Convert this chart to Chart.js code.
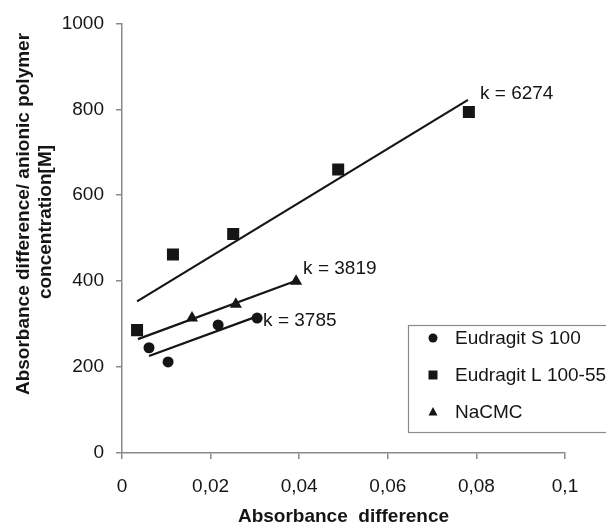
<!DOCTYPE html>
<html>
<head>
<meta charset="utf-8">
<script src="https://cdn.jsdelivr.net/npm/chart.js@4/dist/chart.umd.min.js"></script>
<style>
  html, body { margin: 0; padding: 0; background: #fff; }
  #wrap { width: 606px; height: 527px; position: relative; }
</style>
</head>
<body>
<div id="wrap"><canvas id="kChart"></canvas></div>
<script>
// 読み取ったデータ
const seriesNames = ['Eudragit S 100', 'Eudragit L 100-55', 'NaCMC'];
const seriesStyles = ['circle', 'rect', 'triangle'];

const s100X = [0.0061, 0.0104, 0.0217, 0.0305];
const s100Y = [245, 212, 298, 314];
const l10055X = [0.0034, 0.0115, 0.0251, 0.0488, 0.0783];
const l10055Y = [286, 462, 510, 660, 794];
const nacmcX = [0.0158, 0.0257, 0.0393];
const nacmcY = [314, 346, 400];

// 回帰直線の端点
const s100TrendX = [0.0061, 0.0305];
const s100TrendY = [226, 318];
const l10055TrendX = [0.0034, 0.0781];
const l10055TrendY = [353, 822];
const nacmcTrendX = [0.0036, 0.0393];
const nacmcTrendY = [265, 401];

const slopeLabels = ['k = 3785', 'k = 6274', 'k = 3819'];

const xTickLabels = ['0', '0,02', '0,04', '0,06', '0,08', '0,1'];
const yTickLabels = ['0', '200', '400', '600', '800', '1000'];

const xTitle = 'Absorbance  difference';
const yTitle = ['Absorbance difference/ anionic polymer', 'concentration[M]'];

const FONT = '"Liberation Sans", Arial, sans-serif';
const AXIS_GRAY = '#8a8a8a';
const INK = '#151515';

function toPoints(xs, ys) {
    return xs.map((x, i) => ({ x: x, y: ys[i] }));
}

function drawMarker(ctx, style, x, y, r) {
    ctx.beginPath();
    if (style === 'circle') {
        ctx.arc(x, y, r, 0, Math.PI * 2);
    } else if (style === 'rect') {
        ctx.rect(x - r, y - r, r * 2, r * 2);
    } else {
        ctx.moveTo(x, y - r * 1.1);
        ctx.lineTo(x + r, y + r * 0.8);
        ctx.lineTo(x - r, y + r * 0.8);
        ctx.closePath();
    }
    ctx.fill();
}

// タイトル・注釈・凡例を描くプラグイン
const decorPlugin = {
    id: 'decor',
    afterDraw(chart) {
        const ctx = chart.ctx;
        const xs = chart.scales.x;
        const ys = chart.scales.y;
        ctx.save();
        ctx.fillStyle = INK;

        // 傾きのラベル
        ctx.font = '19px ' + FONT;
        ctx.textBaseline = 'middle';
        ctx.textAlign = 'left';
        const ends = [
            [s100TrendX[1], s100TrendY[1], 6, 4],
            [l10055TrendX[1], l10055TrendY[1], 12, -6],
            [nacmcTrendX[1], nacmcTrendY[1], 7, -12]
        ];
        ends.forEach((e, i) => {
            ctx.fillText(slopeLabels[i], xs.getPixelForValue(e[0]) + e[2], ys.getPixelForValue(e[1]) + e[3]);
        });

        // x軸タイトル
        ctx.font = 'bold 19px ' + FONT;
        ctx.textAlign = 'center';
        ctx.fillText(xTitle, (chart.chartArea.left + chart.chartArea.right) / 2, 517);

        // y軸タイトル
        ctx.save();
        ctx.translate(24, 214);
        ctx.rotate(-Math.PI / 2);
        ctx.fillText(yTitle[0], 0, 0);
        ctx.restore();
        ctx.save();
        ctx.translate(46, 222);
        ctx.rotate(-Math.PI / 2);
        ctx.fillText(yTitle[1], 0, 0);
        ctx.restore();

        // 凡例
        ctx.fillStyle = '#fff';
        ctx.fillRect(408, 325, 220, 107);
        ctx.strokeStyle = AXIS_GRAY;
        ctx.lineWidth = 1.2;
        ctx.strokeRect(408.5, 325.5, 220, 107);
        ctx.font = '19px ' + FONT;
        ctx.textAlign = 'left';
        ctx.fillStyle = INK;
        seriesNames.forEach((name, i) => {
            const y = 338 + i * 37;
            drawMarker(ctx, seriesStyles[i], 433, y, 4.5);
            ctx.fillText(name, 455, y + 1);
        });
        ctx.restore();
    }
};

let kChart = null;

document.addEventListener('DOMContentLoaded', function() {
    const ctx = document.getElementById('kChart').getContext('2d');
    const pointSets = [toPoints(s100X, s100Y), toPoints(l10055X, l10055Y), toPoints(nacmcX, nacmcY)];
    const trendSets = [
        toPoints(s100TrendX, s100TrendY),
        toPoints(l10055TrendX, l10055TrendY),
        toPoints(nacmcTrendX, nacmcTrendY)
    ];
    const radii = [5.5, 8.5, 7];

    const datasets = [];
    trendSets.forEach((pts, i) => {
        datasets.push({
            label: seriesNames[i] + ' fit',
            data: pts,
            showLine: true,
            borderColor: INK,
            borderWidth: 2.2,
            pointRadius: 0,
            fill: false
        });
    });
    pointSets.forEach((pts, i) => {
        datasets.push({
            label: seriesNames[i],
            data: pts,
            showLine: false,
            pointStyle: seriesStyles[i],
            pointRadius: radii[i],
            pointBackgroundColor: INK,
            pointBorderColor: INK,
            pointBorderWidth: 0
        });
    });

    kChart = new Chart(ctx, {
        type: 'scatter',
        data: { datasets: datasets },
        options: {
            responsive: true,
            maintainAspectRatio: false,
            animation: false,
            layout: { padding: { left: 0, top: 20, right: 41, bottom: 0 } },
            plugins: {
                legend: { display: false },
                tooltip: { enabled: false }
            },
            scales: {
                x: {
                    type: 'linear',
                    min: 0,
                    max: 0.1,
                    afterFit: s => { s.height = 74; },
                    afterBuildTicks: s => {
                        s.ticks = xTickLabels.map((_, i) => ({ value: i * 0.02 }));
                    },
                    border: { color: AXIS_GRAY, width: 1.5 },
                    grid: { drawOnChartArea: false, drawTicks: true, tickLength: 6, color: AXIS_GRAY, lineWidth: 1.5 },
                    ticks: {
                        padding: 16,
                        color: INK,
                        font: { family: FONT, size: 19 },
                        maxRotation: 0,
                        callback: (v, i) => xTickLabels[i]
                    }
                },
                y: {
                    type: 'linear',
                    min: 0,
                    max: 1000,
                    afterFit: s => { s.width = 122; },
                    afterBuildTicks: s => {
                        s.ticks = yTickLabels.map(t => ({ value: Number(t) }));
                    },
                    border: { color: AXIS_GRAY, width: 1.5 },
                    grid: { drawOnChartArea: false, drawTicks: true, tickLength: 6, color: AXIS_GRAY, lineWidth: 1.5 },
                    ticks: {
                        padding: 12,
                        color: INK,
                        font: { family: FONT, size: 19 },
                        callback: (v, i) => yTickLabels[i]
                    }
                }
            }
        },
        plugins: [decorPlugin]
    });
});
</script>
</body>
</html>
